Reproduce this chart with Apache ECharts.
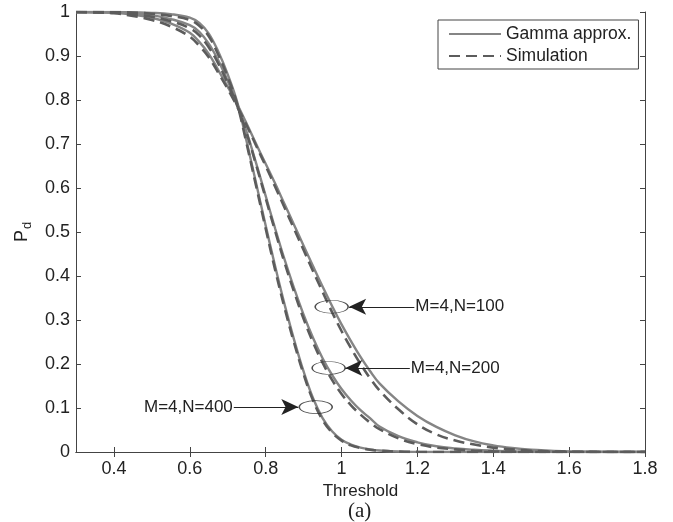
<!DOCTYPE html>
<html>
<head>
<meta charset="utf-8">
<script src="https://cdn.jsdelivr.net/npm/echarts@6/dist/echarts.min.js"></script>
<style>
  html, body { margin: 0; padding: 0; background: #fff; }
  #chart { width: 673px; height: 522px; }
</style>
</head>
<body>
<div id="chart"></div>
<script>
var thresholds = [0.3, 0.35, 0.4, 0.45, 0.5, 0.55, 0.6, 0.625, 0.65, 0.675, 0.7, 0.725, 0.75, 0.775, 0.8, 0.825, 0.85, 0.875, 0.9, 0.925, 0.95, 0.975, 1.0, 1.025, 1.05, 1.075, 1.1, 1.15, 1.2, 1.25, 1.3, 1.35, 1.4, 1.45, 1.5, 1.55, 1.6, 1.7, 1.8];

var gamma100 = [1.000, 0.999, 0.998, 0.994, 0.987, 0.974, 0.953, 0.932, 0.905, 0.868, 0.830, 0.790, 0.746, 0.700, 0.655, 0.610, 0.563, 0.516, 0.469, 0.422, 0.376, 0.332, 0.290, 0.252, 0.216, 0.184, 0.156, 0.115, 0.082, 0.057, 0.038, 0.024, 0.015, 0.009, 0.005, 0.003, 0.0015, 0.0003, 0];
var sim100 = [1.000, 0.999, 0.997, 0.991, 0.982, 0.967, 0.944, 0.923, 0.897, 0.862, 0.825, 0.785, 0.742, 0.696, 0.650, 0.603, 0.555, 0.507, 0.459, 0.411, 0.364, 0.318, 0.275, 0.236, 0.200, 0.168, 0.140, 0.097, 0.063, 0.040, 0.026, 0.017, 0.010, 0.006, 0.003, 0.0015, 0.0008, 0, 0];

var gamma200 = [1.000, 1.000, 0.999, 0.997, 0.993, 0.984, 0.970, 0.955, 0.928, 0.890, 0.843, 0.790, 0.727, 0.656, 0.582, 0.508, 0.437, 0.372, 0.312, 0.259, 0.213, 0.175, 0.143, 0.117, 0.095, 0.077, 0.058, 0.036, 0.022, 0.013, 0.008, 0.005, 0.003, 0.0015, 0.0008, 0.0004, 0.0002, 0, 0];
var sim200 = [1.000, 1.000, 0.999, 0.995, 0.989, 0.979, 0.963, 0.947, 0.920, 0.883, 0.838, 0.787, 0.724, 0.652, 0.577, 0.502, 0.430, 0.364, 0.303, 0.249, 0.203, 0.164, 0.132, 0.106, 0.085, 0.067, 0.052, 0.031, 0.018, 0.010, 0.006, 0.003, 0.0015, 0.0008, 0.0004, 0.0002, 0, 0, 0];

var gamma400 = [1.000, 1.000, 1.000, 0.999, 0.998, 0.995, 0.987, 0.975, 0.951, 0.910, 0.858, 0.795, 0.705, 0.610, 0.515, 0.422, 0.335, 0.255, 0.183, 0.122, 0.077, 0.047, 0.028, 0.017, 0.010, 0.006, 0.0035, 0.001, 0.0003, 0.0001, 0, 0, 0, 0, 0, 0, 0, 0, 0];
var sim400 = [1.000, 1.000, 1.000, 0.999, 0.996, 0.991, 0.982, 0.969, 0.945, 0.903, 0.852, 0.790, 0.700, 0.604, 0.508, 0.414, 0.327, 0.248, 0.177, 0.117, 0.073, 0.044, 0.026, 0.015, 0.009, 0.005, 0.003, 0.0008, 0.0002, 0, 0, 0, 0, 0, 0, 0, 0, 0, 0];

var xTicks = [0.4, 0.6, 0.8, 1.0, 1.2, 1.4, 1.6, 1.8];

// ellipse markers [threshold, Pd]
var ellipses = [[0.974, 0.33], [0.966, 0.191], [0.932, 0.102]];
// arrows: label, start, tip
var arrows = [
  { label: 'M=4,N=100', from: [1.192, 0.33], to: [1.020, 0.33] },
  { label: 'M=4,N=200', from: [1.180, 0.191], to: [1.010, 0.191] },
  { label: 'M=4,N=400', from: [0.716, 0.102], to: [0.886, 0.102] }
];

function pairs(ys) {
  return thresholds.map(function(t, i) { return [t, ys[i]]; });
}

var textColor = '#222';
var axisColor = '#444';
var font = '"Liberation Sans", Arial, Helvetica, sans-serif';

function curve(name, ys, dashed) {
  var color = dashed ? '#5c5c5c' : '#858585';
  return {
    name: name,
    type: 'line',
    smooth: 0.4,
    symbol: 'none',
    showSymbol: false,
    silent: true,
    lineStyle: dashed
      ? { color: color, width: 2.6, type: [11, 6] }
      : { color: color, width: 2.4, type: 'solid' },
    itemStyle: { color: color },
    data: pairs(ys)
  };
}

var mirrorAxis = {
  axisLine: { show: true, lineStyle: { color: axisColor, width: 1 } },
  axisTick: { show: true, inside: true, length: 5, lineStyle: { color: axisColor } },
  axisLabel: { show: false },
  splitLine: { show: false }
};

var option = {
  backgroundColor: '#fff',
  animation: false,
  textStyle: { fontFamily: font, color: textColor },
  grid: { left: 76, right: 28, top: 12, bottom: 70, containLabel: false },
  legend: {
    data: ['Gamma approx.', 'Simulation'],
    orient: 'vertical',
    left: 438,
    top: 20,
    padding: [5, 7, 4, 10],
    itemGap: 4,
    itemWidth: 52,
    itemHeight: 14,
    itemStyle: { opacity: 0 },
    borderColor: '#444',
    borderWidth: 1,
    backgroundColor: '#fff',
    textStyle: { fontSize: 17.5, color: textColor, fontFamily: font, padding: [0, 0, 0, 0] }
  },
  xAxis: [{
    type: 'value',
    min: 0.3,
    max: 1.8,
    name: 'Threshold',
    nameLocation: 'middle',
    nameGap: 29,
    nameTextStyle: { fontSize: 17, color: textColor, fontFamily: font },
    axisLine: { show: true, lineStyle: { color: axisColor, width: 1 } },
    axisTick: { show: true, inside: true, length: 5, customValues: xTicks, lineStyle: { color: axisColor } },
    axisLabel: { fontSize: 18, color: textColor, fontFamily: font, margin: 8, customValues: xTicks },
    splitLine: { show: false }
  }, Object.assign({
    type: 'value', position: 'top', min: 0.3, max: 1.8
  }, mirrorAxis, {
    axisTick: { show: true, inside: true, length: 5, customValues: xTicks, lineStyle: { color: axisColor } }
  })],
  yAxis: [{
    type: 'value',
    min: 0,
    max: 1,
    interval: 0.1,
    name: '{p|P}{sub|d}',
    nameLocation: 'middle',
    nameRotate: 90,
    nameGap: 42,
    nameTextStyle: {
      color: textColor,
      rich: {
        p: { fontSize: 18, color: textColor, fontFamily: font },
        sub: { fontSize: 13, color: textColor, fontFamily: font, padding: [10, 0, 0, 1] }
      }
    },
    axisLine: { show: true, lineStyle: { color: axisColor, width: 1 } },
    axisTick: { show: true, inside: true, length: 5, lineStyle: { color: axisColor } },
    axisLabel: { fontSize: 18, color: textColor, fontFamily: font, margin: 6 },
    splitLine: { show: false }
  }, Object.assign({
    type: 'value', position: 'right', min: 0, max: 1, interval: 0.1
  }, mirrorAxis)],
  graphic: [{
    type: 'text',
    left: 348,
    top: 501,
    style: { text: '(a)', font: '21px "Liberation Serif", "Times New Roman", serif', fill: textColor }
  }],
  series: [
    curve('Gamma approx.', gamma100, false),
    curve('Gamma approx.', gamma200, false),
    curve('Gamma approx.', gamma400, false),
    curve('Simulation', sim100, true),
    curve('Simulation', sim200, true),
    curve('Simulation', sim400, true),
    {
      name: 'ellipses',
      type: 'scatter',
      silent: true,
      symbol: 'circle',
      symbolSize: [33, 13],
      itemStyle: { color: 'rgba(0,0,0,0)', borderColor: '#222', borderWidth: 1 },
      data: ellipses,
      z: 5
    },
    {
      name: 'arrows',
      type: 'line',
      silent: true,
      data: [],
      markLine: {
        silent: true,
        animation: false,
        symbol: ['none', 'arrow'],
        symbolSize: [12, 17],
        lineStyle: { color: '#222', width: 1, type: 'solid' },
        label: { show: true, position: 'start', fontSize: 17, color: textColor, fontFamily: font, distance: 1 },
        data: arrows.map(function(a) {
          return [
            { coord: a.from, label: { formatter: a.label } },
            { coord: a.to }
          ];
        })
      },
      z: 5
    }
  ]
};

var chart = echarts.init(document.getElementById('chart'));
chart.setOption(option);
</script>
</body>
</html>
